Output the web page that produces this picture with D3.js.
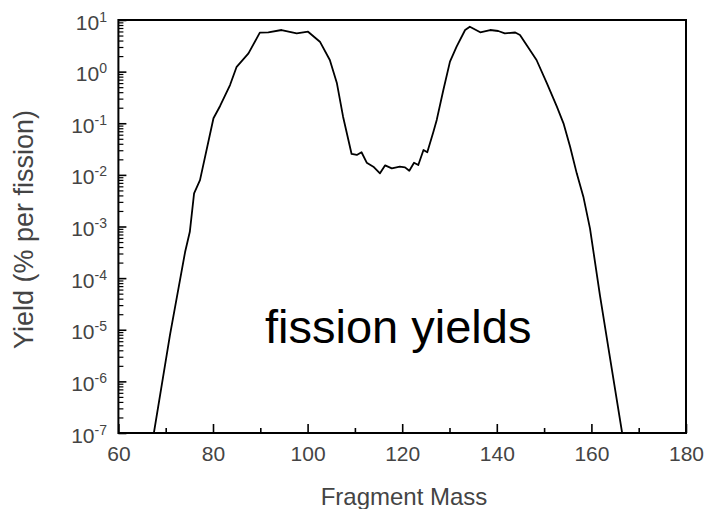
<!DOCTYPE html>
<html>
<head>
<meta charset="utf-8">
<script src="https://cdn.jsdelivr.net/npm/d3@7"></script>
<style>
  html, body { margin: 0; padding: 0; background: #fff; }
  svg { display: block; }
  text { font-family: "Liberation Sans", Arial, Helvetica, sans-serif; }
</style>
</head>
<body>
<svg id="chart" width="710" height="509"></svg>
<script>
// ---- data ----
const mass = [67.5, 70.9, 74.1, 75.1, 76.0, 77.25, 80.1, 81.5, 83.6, 85.0, 87.5, 89.9, 91.7, 94.5, 97.7, 100.1,
  102.6, 104.7, 106.2, 107.5, 109.3, 110.4, 111.4, 112.5, 113.9, 115.3, 116.4, 117.8, 119.5, 120.6, 121.5,
  122.5, 123.4, 124.5, 125.3, 126.6, 127.3, 128.7, 130.1, 131.5, 133.3, 134.3, 136.5, 138.6, 140.3, 141.7,
  143.9, 144.9, 146.3, 148.4, 150.6, 152.7, 154.1, 155.5, 156.9, 158.3, 159.7, 161.8, 163.6, 166.5];
const yieldPct = [1.0e-7, 7.9e-6, 3.2e-4, 7.9e-4, 4.4e-3, 7.9e-3, 0.125, 0.216, 0.55, 1.24, 2.26, 5.68, 5.78, 6.40, 5.52, 5.93,
  3.80, 1.68, 0.594, 0.134, 0.0254, 0.0243, 0.0274, 0.0172, 0.0144, 0.0107, 0.0153, 0.0134, 0.0144, 0.0140, 0.0120,
  0.0172, 0.0155, 0.0303, 0.0274, 0.0686, 0.116, 0.44, 1.56, 3.04, 6.40, 7.41, 5.78, 6.40, 6.12, 5.52,
  5.73, 5.12, 3.28, 1.68, 0.594, 0.209, 0.0998, 0.0352, 0.0107, 3.78e-3, 9.2e-4, 4.7e-5, 4.4e-6, 1.0e-7];
const xMajorTicks = [60, 80, 100, 120, 140, 160, 180];
const xMinorTicks = [70, 90, 110, 130, 150, 170];
const yExponents = [1, 0, -1, -2, -3, -4, -5, -6, -7];
const xTitle = "Fragment Mass";
const yTitle = "Yield (% per fission)";
const annotation = "fission yields";

// ---- layout ----
const L = 118.4, R = 686, T = 20, B = 433;
const svg = d3.select("#chart");
const x = d3.scaleLinear().domain([60, 180]).range([L, R]);
const y = d3.scaleLog().domain([1e-7, 10]).range([B, T]);
const grey = "#444";

// x axis major ticks (inward)
const gx = svg.append("g").attr("transform", `translate(0,${B})`)
  .call(d3.axisBottom(x).tickValues(xMajorTicks).tickSize(-9).tickPadding(12).tickFormat(d3.format("d")));
gx.select(".domain").remove();
gx.selectAll(".tick line").attr("stroke", "#000").attr("stroke-width", 1.6);
gx.selectAll(".tick text").attr("fill", grey).attr("font-size", 21)
  .attr("font-family", "'Liberation Sans', Arial, sans-serif").attr("dy", "0.75em");

// x axis minor ticks
const gxm = svg.append("g").attr("transform", `translate(0,${B})`)
  .call(d3.axisBottom(x).tickValues(xMinorTicks).tickSize(-5).tickFormat(""));
gxm.select(".domain").remove();
gxm.selectAll(".tick line").attr("stroke", "#000").attr("stroke-width", 1.6);

// y axis major ticks
const yMajor = yExponents.map(e => Math.pow(10, e));
const gy = svg.append("g").attr("transform", `translate(${L},0)`)
  .call(d3.axisLeft(y).tickValues(yMajor).tickSize(-8).tickFormat(""));
gy.select(".domain").remove();
gy.selectAll(".tick line").attr("stroke", "#000").attr("stroke-width", 1.6);

// y axis minor ticks
const yMinor = y.ticks().filter(v => {
  const e = Math.log10(v);
  return Math.abs(e - Math.round(e)) > 1e-6;
});
const gym = svg.append("g").attr("transform", `translate(${L},0)`)
  .call(d3.axisLeft(y).tickValues(yMinor).tickSize(-5).tickFormat(""));
gym.select(".domain").remove();
gym.selectAll(".tick line").attr("stroke", "#000").attr("stroke-width", 1.2);

// y tick labels 10^n
const lab = svg.append("g").selectAll("text").data(yExponents).join("text")
  .attr("x", 107).attr("y", d => y(Math.pow(10, d)) + 9.5)
  .attr("text-anchor", "end").attr("fill", grey).attr("font-size", 21);
lab.append("tspan").text("10");
lab.append("tspan").attr("font-size", 14).attr("dy", -8).text(d => String(d));

// frame
svg.append("rect").attr("x", L).attr("y", T).attr("width", R - L).attr("height", B - T)
  .attr("fill", "none").attr("stroke", "#000").attr("stroke-width", 2);

// curve
svg.append("clipPath").attr("id", "clip").append("rect")
  .attr("x", L).attr("y", T).attr("width", R - L).attr("height", B - T);
const pts = mass.map((m, i) => [m, yieldPct[i]]);
svg.append("path").datum(pts)
  .attr("clip-path", "url(#clip)")
  .attr("fill", "none").attr("stroke", "#000").attr("stroke-width", 1.8)
  .attr("stroke-linejoin", "round")
  .attr("d", d3.line().x(d => x(d[0])).y(d => y(d[1])));

// titles
svg.append("text").attr("x", 404).attr("y", 505).attr("text-anchor", "middle")
  .attr("fill", grey).attr("font-size", 24).text(xTitle);
svg.append("text").attr("transform", "translate(33,229.5) rotate(-90)").attr("text-anchor", "middle")
  .attr("fill", grey).attr("font-size", 27).text(yTitle);

// annotation
svg.append("text").attr("x", 265).attr("y", 343).attr("fill", "#000").attr("font-size", 47).text(annotation);
</script>
</body>
</html>
